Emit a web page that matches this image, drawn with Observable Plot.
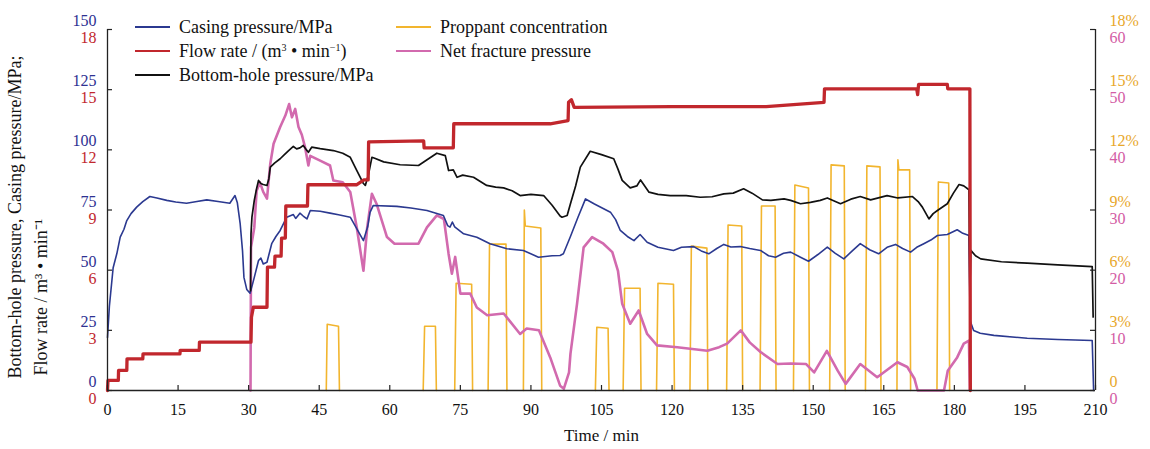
<!DOCTYPE html>
<html><head><meta charset="utf-8">
<script src="https://cdn.jsdelivr.net/npm/d3@7"></script>
<script src="https://cdn.jsdelivr.net/npm/@observablehq/plot@0.6"></script>
<style>
body{margin:0;background:#fff;}
#wrap{position:relative;width:1150px;height:449px;font-family:"Liberation Serif","Times New Roman",serif;}
.item{position:absolute;display:flex;align-items:center;height:24px;font-size:18px;color:#111;white-space:nowrap;}
.item .ln{display:inline-block;width:35px;height:0;border-top:2px solid;margin-right:9px;}
.item sup{font-size:10px;vertical-align:6px;line-height:0;}
</style></head><body><div id="wrap"></div>
<script>
// ---- data (time in min) ----
const xTicks = [0,15,30,45,60,75,90,105,120,135,150,165,180,195,210];
const yTicks = [0,25,50,75,100,125,150];

// Casing pressure, MPa
const casing = [[0,22],[0.4,35],[1.2,51],[2.0,57],[2.7,63.7],[3.5,67],[4.1,70.6],[5,73.5],[6.2,76.2],[7.5,78.5],[9.0,80.6],[10.5,80],[12.6,79],[14.5,78.3],[16.8,77.8],[19,78.5],[21.1,79.2],[23.5,78.5],[26.0,77.8],[27.1,81],[27.6,78],[28.2,69.3],[28.7,58],[29.0,47],[29.6,42],[30.3,40.4],[30.8,44],[31.2,47],[32.1,54],[32.6,55],[33.1,52.6],[33.9,53.3],[34.9,61],[35.8,64],[36.7,66.5],[38.1,72],[39.5,73.1],[40.0,71.5],[40.9,73.7],[41.6,72.5],[42.4,71.3],[43.1,74.8],[45.2,74.5],[47.3,73.7],[49.1,73],[51.6,72],[53,67.2],[54.4,62.3],[55.3,68],[55.8,74],[56.5,76.9],[61.5,76.5],[64.5,75.8],[67.9,74.8],[71.4,72.7],[72.3,68.5],[72.8,67.9],[73.3,70],[73.8,68],[75.7,65.1],[78.5,63.7],[81.3,61],[84.9,58.9],[88.4,58.2],[91.6,55.4],[94.5,56],[96.2,56.1],[96.9,56.8],[98.4,64],[100,72],[101.6,79.6],[103.5,77.5],[106.9,74.1],[108,71],[109,66.5],[110.5,64],[111.9,62.3],[113.2,64.8],[114.7,61.6],[117,59.5],[120.3,58.2],[122,59.5],[124.6,59.8],[126.2,58],[127.8,56.8],[129.5,59],[131,60.7],[132.5,59.6],[134.5,59.8],[136.5,59],[138.8,58.2],[140.5,56],[142,55.4],[143.7,57],[145.2,57.5],[147.3,55.4],[149,53.7],[151,56.5],[153,59.6],[154.7,57],[156.5,54.7],[158.3,58],[160,61],[162,58.5],[163.9,56.8],[165.7,59.5],[167.5,60.7],[169,59],[170.7,57.5],[172,59.5],[173.5,61],[175,62.5],[176.4,64.4],[178.5,64.8],[180.6,66.8],[181.8,65.3],[183.1,64.4],[183.35,29],[184.1,24.9],[185.5,23.8],[188.4,22.9],[195.5,21.7],[202,21.2],[209.3,20.8],[209.6,0]];

// Bottom-hole pressure, MPa
const bottom = [[30.4,41.5],[30.5,65],[30.7,72],[31.2,79],[31.7,84],[32.1,87.3],[32.6,86],[33.1,85.6],[33.9,85.2],[34.3,88],[34.6,92.8],[35.5,94.5],[36.7,96.3],[37.6,98],[38.5,99.7],[39.5,101.4],[40.2,100.4],[40.9,100.8],[41.6,101.8],[42.2,100.2],[42.7,99],[43.4,101.1],[45.2,100.5],[48,99.7],[50,98.6],[51.6,96.9],[53,91.4],[54.4,86],[54.8,85.2],[55.5,90],[56.2,96.9],[56.8,96.5],[58.7,95],[62.2,93.8],[66.1,93.5],[68,96],[70,98.6],[71.8,97.6],[72.5,91.4],[73.5,91.7],[74.3,88.6],[75.5,89.5],[77.8,88.6],[80.6,85.2],[82.5,84.5],[84.2,84.2],[86,83],[87.7,81],[90,81.5],[92.7,81],[94.5,77],[96.2,72.5],[96.6,72],[97.7,72.7],[98.4,77.6],[99.5,85],[100.5,92.8],[102.6,99.4],[105,98],[107.6,96.3],[108.5,92],[109.4,87.3],[111.1,84.2],[112.5,85],[113.3,87.5],[115.1,82.4],[117,81.5],[119.6,81],[123,81],[126,80.3],[128.5,80.5],[131,81.7],[133,82],[135.2,83.8],[137,82],[139.2,79.2],[141,79],[143.8,79.6],[145.2,79],[147.3,77.6],[149.4,78.2],[151.5,79],[153,80],[155.8,77.6],[158,79.5],[160,80.6],[162.2,79.2],[165.7,81],[168,80],[171.1,80.6],[172.3,78.5],[173.2,76.2],[174.6,71.3],[175.5,73.5],[176.4,74.8],[178.5,77.6],[179.8,82],[181,85.6],[182,85],[183.1,83.4],[183.3,41.5],[183.5,58.2],[184.5,56],[185.6,54.7],[190,53.5],[195.5,52.9],[202,52.2],[209.3,51.5],[209.5,30.5]];

// Flow rate, m3/min
const flow = [[0,0],[0.1,0.5],[2.3,0.5],[2.35,1.0],[4.1,1.0],[4.15,1.58],[7.5,1.58],[7.55,1.83],[15.4,1.83],[15.45,2.0],[19.5,2.0],[19.55,2.41],[30.5,2.41],[30.6,3.65],[31.0,4.15],[33.9,4.15],[34.0,6.15],[35.5,6.15],[35.6,6.7],[36.9,6.7],[37.0,7.6],[37.8,7.6],[37.9,9.2],[42.5,9.2],[42.6,10.26],[53,10.26],[54.5,10.5],[55.4,10.5],[55.5,12.4],[67.2,12.45],[67.3,12.1],[73.5,12.1],[73.6,13.3],[94.1,13.3],[97.9,13.46],[98.0,14.37],[98.6,14.5],[99.2,14.12],[120,14.15],[140,14.15],[152.3,14.37],[152.4,15.04],[172,15.04],[172.2,14.75],[172.4,15.26],[178.5,15.26],[178.6,15.04],[183.3,15.04],[183.4,0]];

// Net fracture pressure, MPa (right axis 0-60)
const net = [[30.4,0],[30.5,23.8],[31.2,27.1],[31.7,33.2],[32.4,34.6],[33.1,33],[33.9,31.9],[34.6,37.7],[35.3,41],[36.7,43.8],[37.8,45.7],[38.6,47.6],[39.2,45.4],[39.9,46.8],[40.6,43.8],[41.3,42.5],[42.0,40.4],[42.7,37.4],[43.1,39],[45.2,38.2],[47.3,37.4],[48,34.9],[50,34.6],[51.6,33],[53,27],[54.4,19.9],[55.2,27.1],[56.2,32.7],[57.2,31],[59.4,25.5],[61,24.4],[66.1,24.4],[67.9,27.1],[70,29.1],[71.5,28.5],[72.5,22.7],[73.2,19.4],[73.9,22.2],[75,16.1],[77.1,16.1],[78.5,13.8],[80.7,12.5],[84.2,12.8],[87.7,9.4],[89.1,10.3],[91.7,10],[94.1,5.5],[96.2,0.8],[97,0.3],[98.1,3],[98.4,6.1],[99.8,14.4],[101.2,23.8],[103,25.5],[105.4,24.4],[107.3,23],[108.5,19.9],[109.4,14.4],[111.1,11.1],[112.9,13.3],[114.7,9.4],[116.8,7.5],[121.1,7.2],[127.5,6.6],[130,7.2],[131.7,7.8],[134.6,10],[136.5,8],[138.8,6.4],[142.4,4.4],[145.2,4.5],[148.5,4.4],[150.2,3.0],[152.9,6.6],[155.2,3.3],[156.9,1.1],[160,4.4],[163.6,2.2],[167.9,4.7],[170,3.9],[171.5,2],[172.2,0],[177.8,0],[178.6,3.3],[180.6,5.5],[182,7.8],[183.1,8.3],[183.3,0]];

// Proppant concentration, % (right axis 0-18%), one list per pulse
const proppant = [
 [[46.5,0],[46.7,3.3],[49.1,3.2],[49.3,0]],
 [[67.1,0],[67.4,3.2],[69.7,3.2],[69.9,0]],
 [[73.8,0],[74.1,5.35],[77.4,5.3],[77.6,0]],
 [[80.9,0],[81.2,7.3],[84.7,7.3],[84.9,0]],
 [[88.4,0],[88.6,9.0],[88.8,8.2],[92.1,8.1],[92.3,0]],
 [[103.7,0],[104,3.15],[106.4,3.1],[106.6,0]],
 [[109.6,0],[109.9,5.1],[113.2,5.1],[113.4,0]],
 [[116.7,0],[117,5.35],[120.3,5.3],[120.5,0]],
 [[123.8,0],[124.1,7.2],[127.4,7.1],[127.6,0]],
 [[131.6,0],[131.9,8.25],[134.8,8.2],[135,0]],
 [[138.7,0],[139,9.2],[141.9,9.2],[142.1,0]],
 [[145.8,0],[146.1,10.25],[149,10.1],[149.2,0]],
 [[153.5,0],[153.8,11.25],[156.6,11.2],[156.8,0]],
 [[161.1,0],[161.4,11.2],[164.2,11.15],[164.4,0]],
 [[167.8,0],[168,11.5],[168.2,11.0],[170.5,11.0],[170.7,0]],
 [[176.3,0],[176.6,10.4],[178.8,10.35],[179,0]]
];

const C = {casing:"#2B3990", flow:"#C1272D", bottom:"#111111", prop:"#F2B52E", net:"#D26AAE",
           casingLab:"#2E3192", flowLab:"#C1272D", propLab:"#E8A72A", netLab:"#D35CA4", axis:"#222"};

const rows = (arr, k) => arr.map(([t, v]) => ({t, v: v * k}));
const propRows = proppant.flatMap((p, i) => p.map(([t, v]) => ({t, v: v * 150 / 18, id: i})));

const plot = Plot.plot({
  width: 1150, height: 449,
  marginLeft: 107, marginRight: 55, marginTop: 29, marginBottom: 59,
  x: {domain: [0, 210]},
  y: {domain: [0, 150]},
  style: {fontFamily: '"Liberation Serif","Times New Roman",serif', fontSize: "17px", background: "white", overflow: "visible"},
  marks: [
    Plot.line(propRows, {x: "t", y: "v", z: "id", stroke: C.prop, strokeWidth: 1.6}),
    Plot.line(rows(net, 150 / 60), {x: "t", y: "v", stroke: C.net, strokeWidth: 2.6}),
    Plot.line(rows(casing, 1), {x: "t", y: "v", stroke: C.casing, strokeWidth: 1.6}),
    Plot.line(rows(bottom, 1), {x: "t", y: "v", stroke: C.bottom, strokeWidth: 1.7}),
    Plot.line(rows(flow, 150 / 18), {x: "t", y: "v", stroke: C.flow, strokeWidth: 3.3}),
    Plot.ruleX([0, 210], {x: d => d, stroke: C.axis, strokeWidth: 1.3}),
    Plot.ruleY([0], {y: d => d, stroke: C.axis, strokeWidth: 1.3}),
    Plot.tickX(xTicks, {x: d => d, insetTop: 356, stroke: C.axis, strokeWidth: 1.2}),
    Plot.tickY(yTicks, {y: d => d, insetRight: 983, stroke: C.axis, strokeWidth: 1.2}),
    Plot.tickY(yTicks, {y: d => d, insetLeft: 983, stroke: C.axis, strokeWidth: 1.2}),
    Plot.axisY(yTicks, {anchor: "left", tickSize: 0, tickPadding: 11, color: C.casingLab, dy: -8.5, fontSize: 16, label: null, tickFormat: d => String(d)}),
    Plot.axisY(yTicks, {anchor: "left", tickSize: 0, tickPadding: 11, color: C.flowLab, dy: 8.5, fontSize: 16, label: null, tickFormat: d => String(d * 18 / 150)}),
    Plot.axisY(yTicks, {anchor: "right", tickSize: 0, tickPadding: 14, color: C.propLab, dy: -8.5, fontSize: 16, label: null, tickFormat: d => d === 0 ? "0" : (d * 18 / 150) + "%"}),
    Plot.axisY(yTicks, {anchor: "right", tickSize: 0, tickPadding: 14, color: C.netLab, dy: 8.5, fontSize: 16, label: null, tickFormat: d => String(d * 60 / 150)}),
    Plot.axisX(xTicks, {tickSize: 0, tickPadding: 13, fontSize: 16, color: "#111", label: null, tickFormat: d => String(d)}),
    Plot.text(["Time / min"], {text: d => d, frameAnchor: "bottom", dy: 50, fontSize: 17, fill: "#111"}),
    Plot.text(["Bottom-hole pressure, Casing pressure/MPa;"], {text: d => d, frameAnchor: "bottom-left", rotate: -90, textAnchor: "start", dx: -87, dy: -12, fontSize: 18, fill: "#111"}),
    Plot.text(["Flow rate / m³ • min⁻¹"], {text: d => d, frameAnchor: "bottom-left", rotate: -90, textAnchor: "start", dx: -61, dy: -15, fontSize: 18, fill: "#111"})
  ]
});
const wrap = document.getElementById("wrap");
wrap.appendChild(plot);

const legend = [
  {label: "Casing pressure/MPa", color: C.casing, x: 135, y: 27},
  {label: 'Flow rate / (m<sup>3</sup> • min<sup>−1</sup>)', color: C.flow, x: 135, y: 51},
  {label: "Bottom-hole pressure/MPa", color: C.bottom, x: 135, y: 75},
  {label: "Proppant concentration", color: C.prop, x: 396, y: 27},
  {label: "Net fracture pressure", color: C.net, x: 396, y: 51}
];
for (const it of legend) {
  const d = document.createElement("div");
  d.className = "item";
  d.style.left = it.x + "px";
  d.style.top = (it.y - 12) + "px";
  d.innerHTML = `<span class="ln" style="border-color:${it.color}"></span><span>${it.label}</span>`;
  wrap.appendChild(d);
}
</script>
</body></html>
